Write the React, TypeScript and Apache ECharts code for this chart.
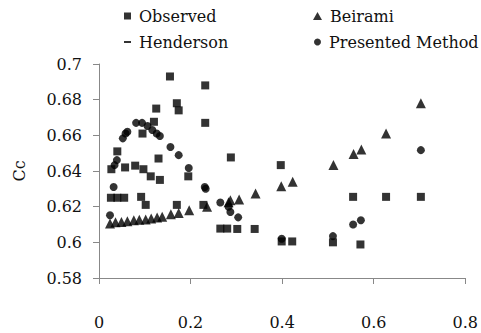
import React, { useEffect, useRef } from "react";
import * as echarts from "echarts";

const observedX = [0.026, 0.040, 0.055, 0.092, 0.102, 0.170, 0.228, 0.027, 0.040, 0.057, 0.079, 0.097, 0.095, 0.113, 0.120, 0.125, 0.130, 0.133, 0.155, 0.170, 0.174, 0.195, 0.232, 0.232, 0.288, 0.265, 0.280, 0.302, 0.340, 0.397, 0.399, 0.422, 0.511, 0.555, 0.627, 0.703, 0.571];
const observedY = [0.625, 0.625, 0.625, 0.6255, 0.621, 0.621, 0.621, 0.641, 0.651, 0.642, 0.643, 0.641, 0.661, 0.637, 0.6676, 0.675, 0.647, 0.635, 0.693, 0.678, 0.674, 0.637, 0.688, 0.667, 0.6476, 0.6077, 0.6077, 0.6075, 0.6075, 0.6433, 0.6005, 0.6005, 0.600, 0.6255, 0.6255, 0.6255, 0.5988];

const beiramiX = [0.024, 0.036, 0.049, 0.062, 0.076, 0.088, 0.102, 0.114, 0.127, 0.138, 0.157, 0.174, 0.197, 0.236, 0.283, 0.287, 0.306, 0.342, 0.398, 0.423, 0.512, 0.556, 0.573, 0.627, 0.703];
const beiramiY = [0.6106, 0.6112, 0.6114, 0.6118, 0.6124, 0.6126, 0.6128, 0.6134, 0.6139, 0.6143, 0.6158, 0.6165, 0.618, 0.620, 0.6225, 0.6236, 0.624, 0.6274, 0.6315, 0.634, 0.6433, 0.6495, 0.652, 0.661, 0.678];

const hendersonX: number[] = [];
const hendersonY: number[] = [];

const presentedX = [0.024, 0.032, 0.034, 0.039, 0.052, 0.058, 0.062, 0.081, 0.094, 0.106, 0.1165, 0.126, 0.133, 0.156, 0.174, 0.196, 0.231, 0.233, 0.265, 0.283, 0.287, 0.304, 0.399, 0.511, 0.555, 0.572, 0.703];
const presentedY = [0.6152, 0.631, 0.6433, 0.6461, 0.6583, 0.661, 0.662, 0.667, 0.667, 0.6652, 0.663, 0.661, 0.6596, 0.6535, 0.6489, 0.6417, 0.631, 0.630, 0.6223, 0.620, 0.617, 0.614, 0.602, 0.6035, 0.610, 0.6124, 0.6517];

const seriesNames = ["Observed", "Beirami", "Henderson", "Presented Method"];

const pts = (xs: number[], ys: number[]) => xs.map((x, i) => [x, ys[i]]);

const FONT = "DejaVu Serif";
const INK = "#000";

export default function App() {
  const ref = useRef<HTMLDivElement>(null);
  useEffect(() => {
    const chart = echarts.init(ref.current!, null, { renderer: "svg" });
    const legendText = { fontFamily: FONT, fontSize: 16, color: "#111", padding: [0, 0, 0, 3] };
    const mkLegend = (name: string, icon: string, left: number, top: number, w: number, h: number) => ({
      data: [{ name, icon }],
      left,
      top,
      padding: 0,
      itemWidth: w,
      itemHeight: h,
      textStyle: legendText,
      selectedMode: false,
    });
    chart.setOption({
      animation: false,
      backgroundColor: "#fff",
      legend: [
        mkLegend(seriesNames[0], "rect", 124, 8, 7, 7),
        mkLegend(seriesNames[1], "triangle", 313, 8, 9, 8),
        mkLegend(seriesNames[2], "rect", 124, 34, 7, 2),
        mkLegend(seriesNames[3], "circle", 314, 34, 7, 7),
      ],
      grid: { left: 99, right: 9, top: 64, bottom: 55 },
      xAxis: {
        type: "value",
        min: 0,
        max: 0.8,
        interval: 0.2,
        splitLine: { show: false },
        axisLine: { show: true, lineStyle: { color: "#888", width: 1 } },
        axisTick: { show: true, inside: false, length: 6, lineStyle: { color: "#888" } },
        axisLabel: { fontFamily: FONT, fontSize: 16, color: "#111", margin: 36 },
      },
      yAxis: {
        type: "value",
        min: 0.58,
        max: 0.7,
        interval: 0.02,
        name: "Cc",
        nameLocation: "middle",
        nameGap: 72,
        nameTextStyle: { fontFamily: FONT, fontSize: 16, color: "#111" },
        splitLine: { show: false },
        axisLine: { show: true, lineStyle: { color: "#888", width: 1 } },
        axisTick: { show: true, inside: false, length: 6, lineStyle: { color: "#888" } },
        axisLabel: { fontFamily: FONT, fontSize: 16, color: "#111", margin: 17 },
      },
      series: [
        { name: seriesNames[0], type: "scatter", symbol: "rect", symbolSize: 8, itemStyle: { color: INK }, data: pts(observedX, observedY) },
        { name: seriesNames[1], type: "scatter", symbol: "triangle", symbolSize: 10, itemStyle: { color: INK }, data: pts(beiramiX, beiramiY) },
        { name: seriesNames[2], type: "scatter", symbol: "rect", symbolSize: [7, 2], itemStyle: { color: INK }, data: pts(hendersonX, hendersonY) },
        { name: seriesNames[3], type: "scatter", symbol: "circle", symbolSize: 8, itemStyle: { color: INK }, data: pts(presentedX, presentedY) },
      ],
    });
    return () => chart.dispose();
  }, []);
  return <div ref={ref} style={{ width: 481, height: 333, position: "absolute", left: 0, top: 0 }} />;
}
